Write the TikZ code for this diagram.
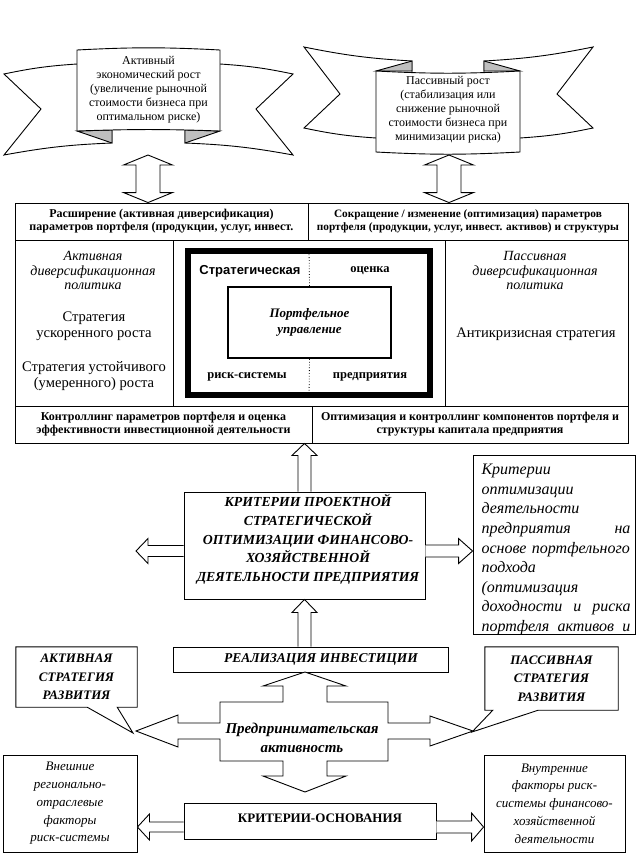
\documentclass[tikz,border=0pt]{standalone}
\usepackage{fontspec}
\setmainfont{Liberation Serif}
\newfontfamily\arialfont{Liberation Sans}
\usetikzlibrary{calc}

% hollow block arrows
\newcommand\blockv[5]{%
  \draw[blk] let \p1=(#1), \p2=(#2), \n1={sign((\y2)-(\y1))} in
    ({\x2-#3},\y1) -- ({\x2-#3},{\y2-(\n1)*(#5)}) -- ({\x2-#4},{\y2-(\n1)*(#5)}) -- (\x2,\y2)
    -- ({\x2+#4},{\y2-(\n1)*(#5)}) -- ({\x2+#3},{\y2-(\n1)*(#5)}) -- ({\x2+#3},\y1);}
\newcommand\blockh[5]{%
  \draw[blk] let \p1=(#1), \p2=(#2), \n1={sign((\x2)-(\x1))} in
    (\x1,{\y2+#3}) -- ({\x2-(\n1)*(#5)},{\y2+#3}) -- ({\x2-(\n1)*(#5)},{\y2+#4}) -- (\x2,\y2)
    -- ({\x2-(\n1)*(#5)},{\y2-#4}) -- ({\x2-(\n1)*(#5)},{\y2-#3}) -- (\x1,{\y2-#3});}
\newcommand\blockvv[2]{%
  \draw[blk] let \p1=(#1), \p2=(#2) in
    (\x1,\y1) -- (\x1+24.5pt,\y1-10pt) -- (\x1+12pt,\y1-10pt) -- (\x1+12pt,\y2+10pt)
    -- (\x1+24.5pt,\y2+10pt) -- (\x1,\y2) -- (\x1-24.5pt,\y2+10pt) -- (\x1-12pt,\y2+10pt)
    -- (\x1-12pt,\y1-10pt) -- (\x1-24.5pt,\y1-10pt) -- cycle;}

\tikzset{
  blk/.style={draw, fill=white, line width=0.9pt},
  callout/.style={draw, line width=0.9pt},
  box/.style={draw, fill=white, line width=0.9pt, inner sep=0pt},
  fold/.style={draw, fill=gray!50, line width=0.9pt},
  bnrtext/.style={align=center, font=\fontsize{12}{14}\selectfont},
  hdrtext/.style={align=center, font=\bfseries\fontsize{12}{13}\selectfont},
  ittext/.style={align=center, font=\itshape\fontsize{14}{14.5}\selectfont},
  rmtext/.style={align=center, font=\fontsize{14.6}{16}\selectfont},
  capbi/.style={align=center, font=\bfseries\itshape\fontsize{13}{18.7}\selectfont},
  smallbold/.style={font=\bfseries\fontsize{12.5}{14}\selectfont},
  sideit/.style={align=center, font=\itshape\fontsize{13}{17.75}\selectfont}
}

\begin{document}
\begin{tikzpicture}[x=1pt, y=-1pt]
  \useasboundingbox (0,0) rectangle (643,855);

  % left ribbon
  \draw[blk] (77,64) to[bend right=4] (4,74) -- (41,109) -- (4,155) to[bend left=4] (112,143) -- (112,100) -- cycle;
  \draw[blk] (220,64) to[bend left=4] (293,74) -- (256,109) -- (293,155) to[bend right=4] (185,143) -- (185,100) -- cycle;
  \draw[fold] (77,131) -- (112,130) -- (112,143) -- cycle;
  \draw[fold] (220,131) -- (185,130) -- (185,143) -- cycle;
  \draw[blk] (77,50) to[bend left=3] (220,50) -- (220,131) to[bend right=2] (77,131) -- cycle;
  \node[bnrtext] (actb) at (148.5,90) {Активный\\экономический рост\\(увеличение рыночной\\стоимости бизнеса при\\оптимальном риске)};

  % right ribbon
  \draw[blk] (412,61) to[bend left=4] (304,47) -- (340,94) -- (304,128) to[bend right=4] (376,138) -- (412,100) -- cycle;
  \draw[blk] (484,61) to[bend right=4] (593,47) -- (557,94) -- (593,128) to[bend left=4] (520,138) -- (484,100) -- cycle;
  \draw[fold] (376,71) -- (412,61) -- (412,71) -- cycle;
  \draw[fold] (520,71) -- (484,61) -- (484,71) -- cycle;
  \draw[blk] (376,71) to[bend right=3] (520,71) -- (520,152) to[bend left=3] (376,152) -- cycle;
  \node[bnrtext] (pasb) at (448,110) {Пассивный рост\\(стабилизация или\\снижение рыночной\\стоимости бизнеса при\\минимизации риска)};

  % main frame
  \node[box, minimum width=293pt, minimum height=37pt, hdrtext] (hl) at (161.5,221.5)
    {Расширение (активная диверсификация)\\параметров портфеля (продукции, услуг, инвест.};
  \node[box, minimum width=320pt, minimum height=37pt, hdrtext, font=\bfseries\fontsize{11.3}{13}\selectfont] (hr) at (468,221.5)
    {Сокращение / изменение (оптимизация) параметров\\портфеля (продукции, услуг, инвест. активов) и структуры};
  \node[box, minimum width=158pt, minimum height=166pt] (ml) at (94,323) {};
  \node[box, minimum width=272pt, minimum height=166pt] (mc) at (309,323) {};
  \node[box, minimum width=183pt, minimum height=166pt] (mr) at (536.5,323) {};
  \node[box, minimum width=297pt, minimum height=37pt, hdrtext] (bl) at (163.5,424.5)
    {Контроллинг параметров портфеля и оценка\\эффективности инвестиционной деятельности};
  \node[box, minimum width=316pt, minimum height=37pt, hdrtext] (br) at (470,424.5)
    {Оптимизация и контроллинг компонентов портфеля и\\структуры капитала предприятия};

  \coordinate (lt) at (148,155);
  \coordinate (rt) at (449,155);
  \blockvv{lt}{hl.north}
  \blockvv{rt}{hr.north}

  \node[ittext] (actpol) at (93,270.5) {Активная\\диверсификационная\\политика};
  \node[rmtext] (acc) at (94,326) {Стратегия\\ускоренного роста};
  \node[rmtext] (sus) at (94,376) {Стратегия устойчивого\\(умеренного) роста};
  \node[ittext] (paspol) at (535,270.5) {Пассивная\\диверсификационная\\политика};
  \node[rmtext] (anti) at (536,334) {Антикризисная стратегия};

  \node[draw, line width=6pt, minimum width=242pt, minimum height=144pt] (sfr) at (309,323) {};
  \node[draw, line width=2pt, minimum width=163pt, minimum height=71pt, inner sep=0pt, align=center,
    font=\bfseries\itshape\fontsize{13}{16}\selectfont] (port) at (309.5,322.5) {Портфельное\\управление};
  \draw[dotted, line width=0.8pt] (port.north) -- (sfr.north);
  \draw[dotted, line width=0.8pt] (port.south) -- (sfr.south);
  \node[font=\arialfont\bfseries\fontsize{13}{15}\selectfont] (str) at (250,271) {Стратегическая};
  \node[smallbold] (ots) at (370,271) {оценка};
  \node[smallbold] (risk) at (247,377) {риск-системы};
  \node[smallbold] (pred) at (370,377) {предприятия};

  % criteria
  \node[box, minimum width=241pt, minimum height=107pt] (crit) at (304.5,545.5) {};
  \node[capbi, font=\bfseries\itshape\fontsize{13.8}{18.7}\selectfont] (critt) at (308,539.5)
    {КРИТЕРИИ ПРОЕКТНОЙ\\СТРАТЕГИЧЕСКОЙ\\ОПТИМИЗАЦИИ ФИНАНСОВО-\\ХОЗЯЙСТВЕННОЙ\\ДЕЯТЕЛЬНОСТИ ПРЕДПРИЯТИЯ};
  \node[box, minimum width=162pt, minimum height=179pt] (krt) at (554,544.5) {};
  \node[text width=149pt, align=left, inner sep=0pt,
    font=\itshape\fontsize{16}{19.6}\selectfont] (krtt) at (556,549.5)
    {Критерии\\оптимизации\\деятельности\\предприятия\hfill на\\основе портфельного\\подхода\\(оптимизация\\доходности\hfill и\hfill риска\\портфеля\hfill активов\hfill и};
  \blockv{crit.north}{crit.north |- bl.south}{6.5pt}{12.5pt}{12pt}
  \coordinate (cl) at (136,551);
  \blockh{crit.west}{cl}{5.5pt}{12.5pt}{12pt}
  \blockh{crit.east}{krt.west |- cl}{6pt}{12.5pt}{14pt}

  % investment
  \node[box, minimum width=275pt, minimum height=25pt] (real) at (310.5,659.5) {};
  \node[capbi, font=\bfseries\itshape\fontsize{13.5}{18.7}\selectfont] (realt) at (321,659.5) {РЕАЛИЗАЦИЯ ИНВЕСТИЦИИ};
  \blockv{real.north -| crit.south}{crit.south}{6.5pt}{12.5pt}{13pt}

  % strategies
  \node[capbi, minimum width=121pt, minimum height=60pt, inner sep=0pt] (actc) at (76.5,677) {АКТИВНАЯ\\СТРАТЕГИЯ\\РАЗВИТИЯ};
  \coordinate (actp) at (133,733);
  \draw[callout] (actc.north west) -- (actc.north east) -- (actc.south east) -- ([xshift=-20pt]actc.south east)
    -- (actp) -- ([xshift=-50pt]actc.south east) -- (actc.south west) -- cycle;
  \node[capbi, minimum width=133pt, minimum height=63pt, inner sep=0pt] (pasc) at (551.5,678.5) {ПАССИВНАЯ\\СТРАТЕГИЯ\\РАЗВИТИЯ};
  \coordinate (pasp) at (472,732);
  \draw[callout] (pasc.north west) -- (pasc.north east) -- (pasc.south east) -- ([xshift=-80pt]pasc.south east)
    -- (pasp) -- ([xshift=8pt]pasc.south west) -- (pasc.south west) -- cycle;

  % activity cross
  \draw[blk] (305,672) -- (346,686) -- (327,686) -- (327,702) -- (388,702) -- (388,723) -- (430,723)
    -- (430,716) -- (473,731) -- (430,746) -- (430,739) -- (388,739) -- (388,761) -- (327,761)
    -- (327,776) -- (346,776) -- (305,792) -- (263,776) -- (283,776) -- (283,761) -- (220,761)
    -- (220,739) -- (178,739) -- (178,747) -- (136,731) -- (178,715) -- (178,723) -- (220,723)
    -- (220,702) -- (283,702) -- (283,686) -- (263,686) -- cycle;
  \node[align=center, font=\bfseries\itshape\fontsize{15}{19}\selectfont] (ent) at (302,738) {Предпринимательская\\активность};

  % bottom
  \node[box, minimum width=134pt, minimum height=97pt, sideit] (ext) at (70,803.5)
    {Внешние\\регионально-\\отраслевые\\факторы\\риск-системы};
  \node[box, minimum width=141pt, minimum height=97pt, sideit] (int) at (554.5,803.5)
    {Внутренние\\факторы риск-\\системы финансово-\\хозяйственной\\деятельности};
  \node[box, minimum width=252pt, minimum height=36pt] (osn) at (310,821) {};
  \node[font=\bfseries\fontsize{13}{15}\selectfont] (osnt) at (320,818) {КРИТЕРИИ-ОСНОВАНИЯ};
  \coordinate (osl) at ([yshift=-23.5pt]ext.east);
  \coordinate (osr) at ([yshift=-23.5pt]int.west);
  \blockh{osn.west}{osl}{5pt}{13pt}{12pt}
  \blockh{osn.east}{osr}{6pt}{14pt}{12pt}
\end{tikzpicture}
\end{document}
